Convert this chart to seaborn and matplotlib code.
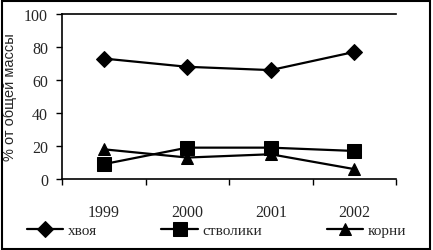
import pandas as pd
import numpy as np
import seaborn as sns
import matplotlib.pyplot as plt
from matplotlib.ticker import FixedLocator

years = ['1999', '2000', '2001', '2002']
khvoya = [73, 68, 66, 77]
stvoliki = [9, 19, 19, 17]
korni = [18, 13, 15, 6]
names = ['хвоя', 'стволики', 'корни']
markers = ['D', 's', '^']

df = pd.DataFrame({'year': years * 3,
                   'val': khvoya + stvoliki + korni,
                   'part': [n for n in names for _ in years]})

sns.set_style('white')
plt.rcParams['font.family'] = ['Liberation Serif', 'DejaVu Serif']

fig = plt.figure(figsize=(4.33, 2.51), dpi=100)
ax = fig.add_axes([62/433, 1 - 180/251, 334/433, 165/251])
for n, m in zip(names, markers):
    sns.lineplot(data=df[df.part == n], x='year', y='val', ax=ax, color='black',
                 marker=m, markersize=8.5 if m != 's' else 9.5, markeredgecolor='black',
                 linewidth=1.6, label=n, legend=False)

ax.set_xlim(-0.5, 3.5)
ax.set_ylim(0, 100)
ax.set_yticks([0, 20, 40, 60, 80, 100])
ax.tick_params(axis='y', direction='out', length=4, width=1, color='black', labelsize=11.5, pad=6, left=True)
ax.tick_params(axis='x', which='major', length=0, labelsize=11.5, pad=18)
ax.xaxis.set_minor_locator(FixedLocator([-0.5, 0.5, 1.5, 2.5, 3.5]))
ax.tick_params(axis='x', which='minor', direction='out', length=4, width=1, color='black', bottom=True)
ax.set_xlabel('')
ax.set_ylabel('% от общей массы', fontsize=10.5, family=['Liberation Sans', 'DejaVu Sans'], labelpad=5)
for s in ['left', 'bottom', 'top']:
    ax.spines[s].set_color('black')
    ax.spines[s].set_linewidth(1.2)
ax.spines['right'].set_visible(False)

h, l = ax.get_legend_handles_labels()
fig.legend(h, l, loc='center', bbox_to_anchor=(0.5, 1 - 231/251), ncol=3, frameon=False,
           fontsize=11, handlelength=2.4, columnspacing=4.2, handletextpad=0.3)

fig.patches.append(plt.Rectangle((2/433, 1/251), 428/433, 248/251, transform=fig.transFigure,
                                 fill=False, edgecolor='black', linewidth=1.5))
fig.savefig('out.png', dpi=100)
